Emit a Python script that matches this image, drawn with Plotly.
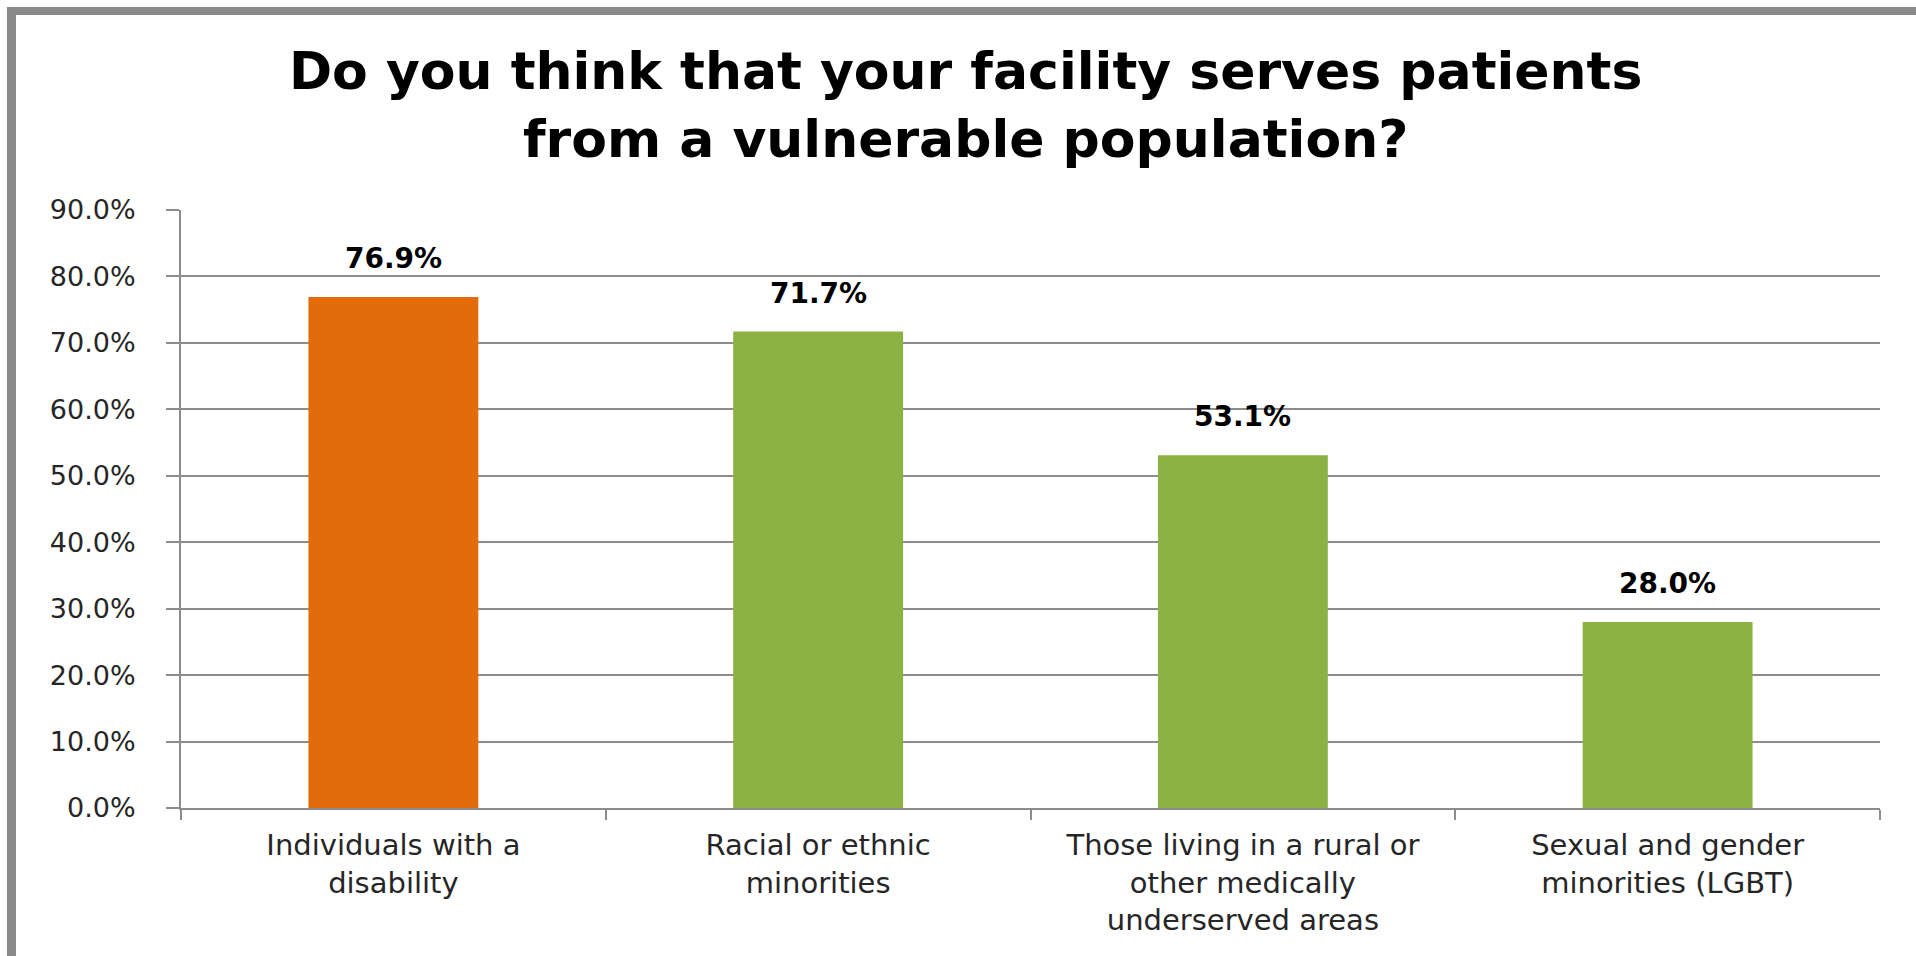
import plotly.graph_objects as go

categories = [
    "Individuals with a<br>disability",
    "Racial or ethnic<br>minorities",
    "Those living in a rural or<br>other medically<br>underserved areas",
    "Sexual and gender<br>minorities (LGBT)",
]
values = [76.9, 71.7, 53.1, 28.0]
bar_colors = ["#E36C0A", "#8CB244", "#8CB244", "#8CB244"]
y_ticks = [0, 10, 20, 30, 40, 50, 60, 70, 80, 90]
title_text = "Do you think that your facility serves patients<br>from a vulnerable population?"

W, H = 1916, 956
L, R, T, B = 181, 36, 210, 148

fig = go.Figure()
fig.add_trace(go.Bar(
    x=categories, y=values,
    marker=dict(color=bar_colors, line=dict(width=0)),
    width=0.40,
    hoverinfo="skip",
))

for c, v in zip(categories, values):
    fig.add_annotation(
        x=c, y=v, text=f"<b>{v:.1f}%</b>", showarrow=False,
        yanchor="bottom", yshift=20,
        font=dict(family="DejaVu Sans", size=28, color="#000000"),
    )

grid = "#8C8C8C"
fig.update_layout(
    width=W, height=H,
    margin=dict(l=L, r=R, t=T, b=B),
    paper_bgcolor="white", plot_bgcolor="white",
    showlegend=False,
    title=dict(
        text=f"<b>{title_text}</b>",
        x=0.504, xanchor="center", xref="container",
        y=1 - 89 / H, yanchor="middle", yref="container",
        font=dict(family="DejaVu Sans", size=52, color="#000000"),
    ),
    xaxis=dict(
        type="category",
        showline=True, linecolor=grid, linewidth=2,
        ticks="outside", tickson="boundaries", ticklen=10, tickcolor=grid, tickwidth=2,
        tickfont=dict(family="DejaVu Sans", size=29, color="#262626"),
        ticklabelstandoff=10,
        showgrid=False,
    ),
    yaxis=dict(
        range=[0, 90],
        tickvals=y_ticks,
        ticktext=[f"{t:.1f}%" for t in y_ticks],
        showline=True, linecolor=grid, linewidth=2,
        ticks="outside", ticklen=13, tickcolor=grid, tickwidth=2,
        showgrid=True, gridcolor=grid, gridwidth=2,
        zeroline=False,
        tickfont=dict(family="DejaVu Sans", size=27, color="#262626"),
        ticklabelstandoff=25,
    ),
    shapes=[
        dict(type="line", xref="paper", yref="paper",
             x0=(11.5 - L) / (W - L - R), x1=(11.5 - L) / (W - L - R),
             y0=(H - B - 11) / (H - T - B), y1=-B / (H - T - B),
             line=dict(color="#8A8A8A", width=9)),
        dict(type="line", xref="paper", yref="paper",
             x0=(7 - L) / (W - L - R), x1=(W - L) / (W - L - R),
             y0=(H - B - 11) / (H - T - B), y1=(H - B - 11) / (H - T - B),
             line=dict(color="#8A8A8A", width=8)),
    ],
)

fig.write_html("out.html")
